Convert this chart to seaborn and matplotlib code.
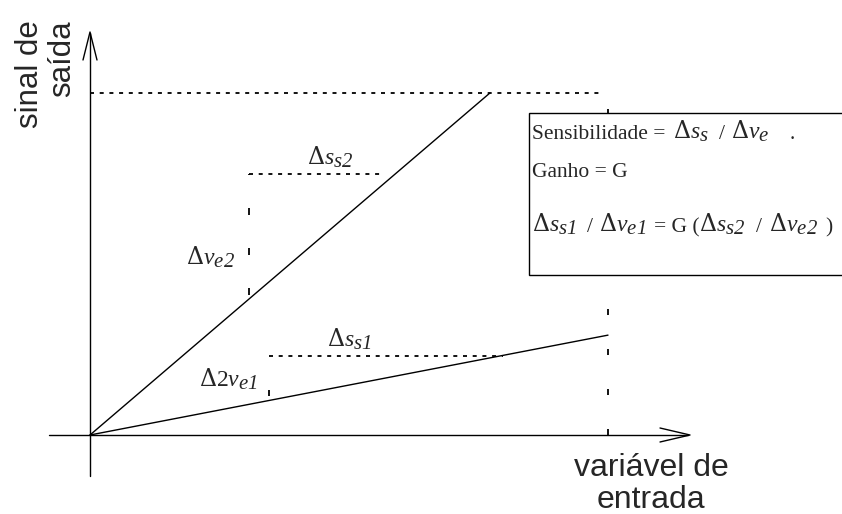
import matplotlib
matplotlib.use("Agg")
import matplotlib.pyplot as plt
import matplotlib._mathtext as _mt
import seaborn as sns
import pandas as pd
import numpy as np

sns.set_theme(style="white")
plt.rcParams["font.family"] = ["Liberation Serif", "DejaVu Serif"]
plt.rcParams["mathtext.fontset"] = "custom"
plt.rcParams["mathtext.rm"] = "DejaVu Serif"
plt.rcParams["mathtext.it"] = "Liberation Serif:italic"
plt.rcParams["mathtext.bf"] = "Liberation Serif:italic"
plt.rcParams["mathtext.sf"] = "Liberation Serif"
plt.rcParams["lines.scale_dashes"] = False
_mt.SHRINK_FACTOR = 0.88

# ---- data (normalised input / output units) ----
high_gain_x = [0.0, 0.772]
high_gain_y = [0.0, 1.0]
low_gain_x = [0.0, 1.0]
low_gain_y = [0.0, 0.292]
saturation_level = 1.0
saturation_x_end = 0.988
input_max = 1.0
ds2_y = 0.763
ds2_x = [0.307, 0.566]
dv2_x = 0.307
dv2_y = [0.3977, 0.763]
ds1_y = 0.231
ds1_x = [0.346, 0.797]
dv1_x = 0.346
dv1_y = [0.100, 0.231]

# ---- figure ----
W, H = 842, 514
fig = plt.figure(figsize=(W / 100, H / 100), dpi=100)
ax = fig.add_axes([0, 0, 1, 1])
sx, sy = 518.0, 342.0
ox, oy = 90.0, 435.0
ax.set_xlim(-ox / sx, (W - ox) / sx)
ax.set_ylim(-(H - oy) / sy, oy / sy)
ax.axis("off")

px = 0.72  # points per pixel at 100 dpi
solid_lw = 1.0
dash_fine = (0, (4 * px, 5.7 * px))

df = pd.DataFrame({
    "x": high_gain_x + low_gain_x,
    "y": high_gain_y + low_gain_y,
    "curve": ["G2"] * 2 + ["G1"] * 2,
})
sns.lineplot(data=df, x="x", y="y", units="curve", estimator=None,
             color="black", lw=solid_lw, ax=ax, legend=False)

# axes with arrows
ax.plot([-41 / sx, (688 - ox) / sx], [0, 0], color="black", lw=solid_lw)
ax.plot([0, 0], [-(476 - oy) / sy, (oy - 33) / sy], color="black", lw=solid_lw)
ax.plot([(660 - ox) / sx, (690 - ox) / sx, (660 - ox) / sx],
        [7 / sy, 0, -7 / sy], color="black", lw=solid_lw)
ax.plot([-7 / sx, 0, 7 / sx],
        [(oy - 60) / sy, (oy - 32) / sy, (oy - 60) / sy], color="black", lw=solid_lw)

# saturation dashed line and input-limit dashed line
ax.plot([0, saturation_x_end], [saturation_level, saturation_level],
        color="black", lw=1.3, ls=dash_fine)
ax.plot([input_max, input_max], [0, saturation_level],
        color="black", lw=1.3, ls=(0, (6 * px, 34 * px)))

# delta guides
ax.plot(ds2_x, [ds2_y, ds2_y], color="black", lw=1.3, ls=dash_fine)
ax.plot([dv2_x, dv2_x], dv2_y, color="black", lw=1.3,
        ls=(36 * px, (7 * px, 33 * px)))
ax.plot(ds1_x, [ds1_y, ds1_y], color="black", lw=1.3, ls=dash_fine)
ax.plot([dv1_x, dv1_x], dv1_y, color="black", lw=1.3,
        ls=(35 * px, (6 * px, 34 * px)))

def P(xp, yp):
    return (xp - ox) / sx, (oy - yp) / sy

def D(var, sub, pre=""):
    # bf slot is mapped to the italic serif face so that digits stay italic
    return r"$\Delta%s\mathbf{%s}_{\mathbf{%s}}$" % (pre, var, sub)

fs = 15.5    # plain serif text
fm = 17.0    # math pieces

def put(xp, yp, s, size, z=6):
    ax.text(*P(xp, yp), s, fontsize=size, ha="left", va="baseline", zorder=z)

put(307, 165, D("s", "s2"), fm)
put(186, 265, D("v", "e2"), fm)
put(327, 347, D("s", "s1"), fm)
put(199, 387, D("v", "e1", pre=r"\mathsf{2}"), fm)

# info box
bx0, by0 = P(529, 275)
bx1, by1 = P(845, 113)
ax.add_patch(plt.Rectangle((bx0, by0), bx1 - bx0, by1 - by0, facecolor="white",
                           edgecolor="black", lw=1.0, zorder=5))
# line 1
put(532, 139, "Sensibilidade =", fs)
put(673, 139, D("s", "s"), fm)
put(719, 139, "/", fs)
put(731, 139, D("v", "e"), fm)
put(790, 139, ".", fs)
# line 2
put(532, 177, "Ganho = G", fs)
# line 3
put(532, 232, D("s", "s1"), fm)
put(587, 232, "/", fs)
put(599, 232, D("v", "e1"), fm)
put(654, 232, "= G (", fs)
put(699, 232, D("s", "s2"), fm)
put(756, 232, "/", fs)
put(769, 232, D("v", "e2"), fm)
put(825, 232, ")", fs)

# axis labels (sans)
sans = ["Liberation Sans", "DejaVu Sans"]
ax.text(*P(651, 508), "variável de\nentrada", family=sans, fontsize=23,
        ha="center", va="baseline", multialignment="center", linespacing=1.1)
ax.text(*P(46, 20), "sinal de\nsaída", family=sans, fontsize=22.5, rotation=90,
        ha="center", va="top", multialignment="right", linespacing=1.1)

fig.savefig("out.png", dpi=100)
